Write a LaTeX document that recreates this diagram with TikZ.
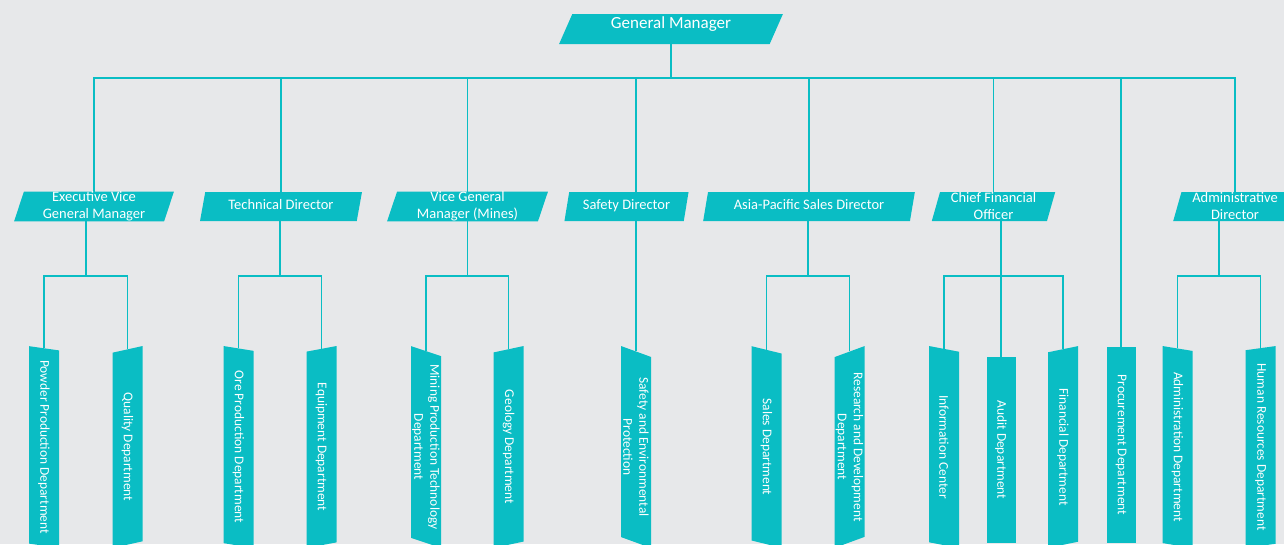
\documentclass[tikz,border=0pt]{standalone}
\usepackage{fontspec}
\setmainfont{Carlito}
\usetikzlibrary{shapes.geometric}
\definecolor{tealbox}{RGB}{10,189,196}
\definecolor{paper}{RGB}{231,232,234}
\pgfdeclarelayer{wires}
\pgfsetlayers{wires,main}

\begin{document}
\begin{tikzpicture}[x=1pt, y=-1pt,
    chief/.style={trapezium, trapezium left angle=69.9, trapezium right angle=110.1,
      trapezium stretches=true, fill=tealbox, text=white, inner sep=0pt,
      minimum width=224, minimum height=30, font=\fontsize{17}{20}\selectfont,
      text height=10pt, text depth=12pt},
    head/.style={trapezium, trapezium left angle=76.4, trapezium right angle=103.6,
      trapezium stretches=true, fill=tealbox, text=white, inner sep=0pt,
      minimum height=29, align=center, font=\fontsize{14.5}{17}\selectfont},
    solo/.style={text height=10pt, text depth=5pt},
    unit/.style={rotate=-90, fill=tealbox, text=white, inner sep=0pt,
      minimum height=30, align=center, font=\fontsize{13.4}{16}\selectfont},
    unitL/.style={unit, trapezium, trapezium left angle=71.6,
      trapezium right angle=108.4, trapezium stretches=true, minimum width=202},
    unitR/.style={unit, trapezium, trapezium left angle=108.4,
      trapezium right angle=71.6, trapezium stretches=true, minimum width=202},
    unitbar/.style={unit, rectangle, minimum height=29},
    wire/.style={draw=tealbox, line width=1.3pt}
  ]
  \useasboundingbox (0,0) rectangle (1284,544);
  \clip (0,0) rectangle (1284,544);
  \begin{pgfonlayer}{wires}
    \fill[paper] (0,0) rectangle (1284,544);
  \end{pgfonlayer}

  % top
  \node[chief] (gm) at (671,29) {General Manager};
  \coordinate (bus) at (671,78);

  % directors
  \node[head, minimum width=160] (evgm) at (94,206.5) {Executive Vice\\General Manager};
  \node[head, solo, minimum width=162] (tech) at (281,206.5) {Technical Director};
  \node[head, minimum width=161] (vgm) at (467.5,206.5) {Vice General\\Manager (Mines)};
  \node[head, solo, minimum width=125] (safety) at (626.5,206.5) {Safety Director};
  \node[head, solo, minimum width=212] (asia) at (809,206.5) {Asia-Pacific Sales Director};
  \node[head, minimum width=124] (cfo) at (993.5,206.5) {Chief Financial\\Officer};
  \node[head, minimum width=124] (admin) at (1235,206.5) {Administrative\\Director};

  % departments
  \node[unitL] (powder) at (44,447) {Powder Production Department};
  \node[unitR] (quality) at (127.5,447) {Quality Department};
  \node[unitL] (ore) at (238.5,447) {Ore Production Department};
  \node[unitR] (equip) at (321.5,447) {Equipment Department};
  \node[unitL] (mining) at (426,447) {Mining Production Technology\\Department};
  \node[unitR] (geology) at (508.5,447) {Geology Department};
  \node[unitL] (envpro) at (636,447) {Safety and Environmental\\Protection};
  \node[unitL] (sales) at (766.5,447) {Sales Department};
  \node[unitR] (rnd) at (849.5,447) {Research and Development\\Department};
  \node[unitL] (info) at (944,447) {Information Center};
  \node[unitbar, minimum width=186] (audit) at (1001,450) {Audit Department};
  \node[unitR] (fin) at (1063,447) {Financial Department};
  \node[unitbar, minimum width=196] (proc) at (1121,445) {Procurement Department};
  \node[unitL] (adminis) at (1177.5,447) {Administration Department};
  \node[unitR] (hr) at (1260.5,447) {Human Resources Department};

  % branch points
  \coordinate (evgm-j) at (86,276);
  \coordinate (tech-j) at (280,276);
  \coordinate (vgm-j) at (467.5,276);
  \coordinate (asia-j) at (808,276);
  \coordinate (cfo-j) at (1001,276);
  \coordinate (admin-j) at (1219,276);

  \begin{pgfonlayer}{wires}
    \draw[wire] (gm) -- (bus);
    \foreach \m in {evgm,tech,vgm,asia,cfo,admin,envpro,proc}
      \draw[wire] (\m) |- (bus);
    \foreach \m/\a/\b in {evgm/powder/quality, tech/ore/equip, vgm/mining/geology,
        asia/sales/rnd, cfo/info/fin, admin/adminis/hr} {
      \draw[wire] (\m-j |- \m) -- (\m-j) -| (\a);
      \draw[wire] (\m-j) -| (\b);
    }
    \draw[wire] (cfo-j) -- (audit);
  \end{pgfonlayer}
\end{tikzpicture}
\end{document}
